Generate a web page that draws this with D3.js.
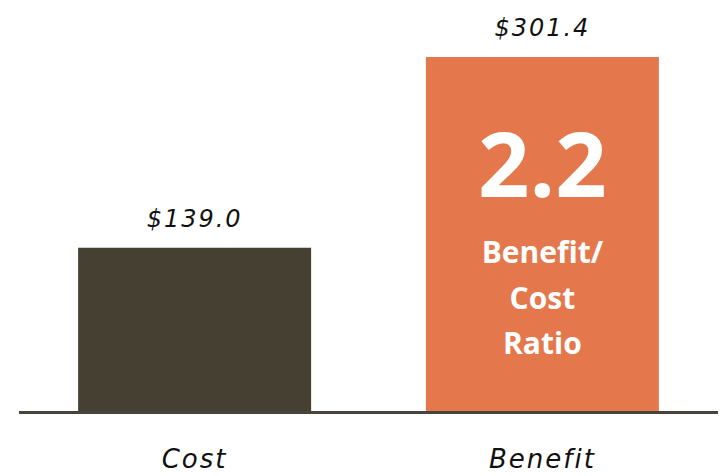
<!DOCTYPE html>
<html>
<head>
<meta charset="utf-8">
<script src="https://cdn.jsdelivr.net/npm/d3@7"></script>
<style>
  html, body { margin: 0; padding: 0; background: #fff; }
  svg { display: block; }
</style>
</head>
<body>
<div id="container"></div>
<script>
// data
const categories = ['Cost', 'Benefit'];
const values = [139.0, 301.4];
const valueLabels = ['$139.0', '$301.4'];
const ratioLabel = '2.2';
const ratioText = ['Benefit/', 'Cost', 'Ratio'];
const barColors = ['#464033', '#E4774C'];

const width = 724;
const height = 476;

const svg = d3.select('#container')
  .append('svg')
  .attr('width', width)
  .attr('height', height);

// scales
const xScale = d3.scaleBand()
  .domain(categories)
  .range([19, 718])
  .paddingInner(0.33)
  .paddingOuter(0.17);

const yScale = d3.scaleLinear()
  .domain([0, 301.4])
  .range([411, 57]);

/*==================================================
    BARS
===================================================*/
svg.selectAll('rect.bar')
  .data(values)
  .enter()
  .append('rect')
  .attr('class', 'bar')
  .attr('x', (d, i) => xScale(categories[i]))
  .attr('y', d => yScale(d))
  .attr('width', xScale.bandwidth())
  .attr('height', d => yScale(0) - yScale(d))
  .attr('fill', (d, i) => barColors[i]);

// value labels above bars
svg.selectAll('text.value')
  .data(values)
  .enter()
  .append('text')
  .attr('class', 'value')
  .attr('x', (d, i) => xScale(categories[i]) + xScale.bandwidth() / 2)
  .attr('y', d => yScale(d) - 21)
  .attr('text-anchor', 'middle')
  .style('font-family', 'DejaVu Sans')
  .style('font-style', 'italic')
  .style('font-size', '24px')
  .style('letter-spacing', '2px')
  .attr('fill', '#111')
  .text((d, i) => valueLabels[i]);

/*==================================================
    AXIS (baseline + category labels)
===================================================*/
const xAxis = d3.axisBottom(xScale).tickSize(0).tickPadding(0);

const axisG = svg.append('g')
  .attr('transform', `translate(0, ${yScale(0) + 1.5})`)
  .call(xAxis);

axisG.select('.domain')
  .attr('d', `M19,0H718`)
  .attr('stroke', '#48443a')
  .attr('stroke-width', 3);

axisG.selectAll('.tick text')
  .attr('y', 55)
  .attr('dy', 0)
  .style('font-family', 'DejaVu Sans')
  .style('font-style', 'italic')
  .style('font-size', '26px')
  .style('letter-spacing', '2px')
  .attr('fill', '#111');

/*==================================================
    RATIO ANNOTATION INSIDE BENEFIT BAR
===================================================*/
const cx = xScale('Benefit') + xScale.bandwidth() / 2;

svg.append('text')
  .attr('x', cx)
  .attr('y', 197)
  .attr('text-anchor', 'middle')
  .style('font-family', 'Open Sans')
  .style('font-weight', 'bold')
  .style('font-size', '90px')
  .attr('fill', '#fff')
  .text(ratioLabel);

svg.selectAll('text.ratio')
  .data(ratioText)
  .enter()
  .append('text')
  .attr('class', 'ratio')
  .attr('x', cx)
  .attr('y', (d, i) => 263 + i * 45.5)
  .attr('text-anchor', 'middle')
  .style('font-family', 'Open Sans')
  .style('font-weight', 'bold')
  .style('font-size', '30px')
  .attr('fill', '#fff')
  .text(d => d);
</script>
</body>
</html>
